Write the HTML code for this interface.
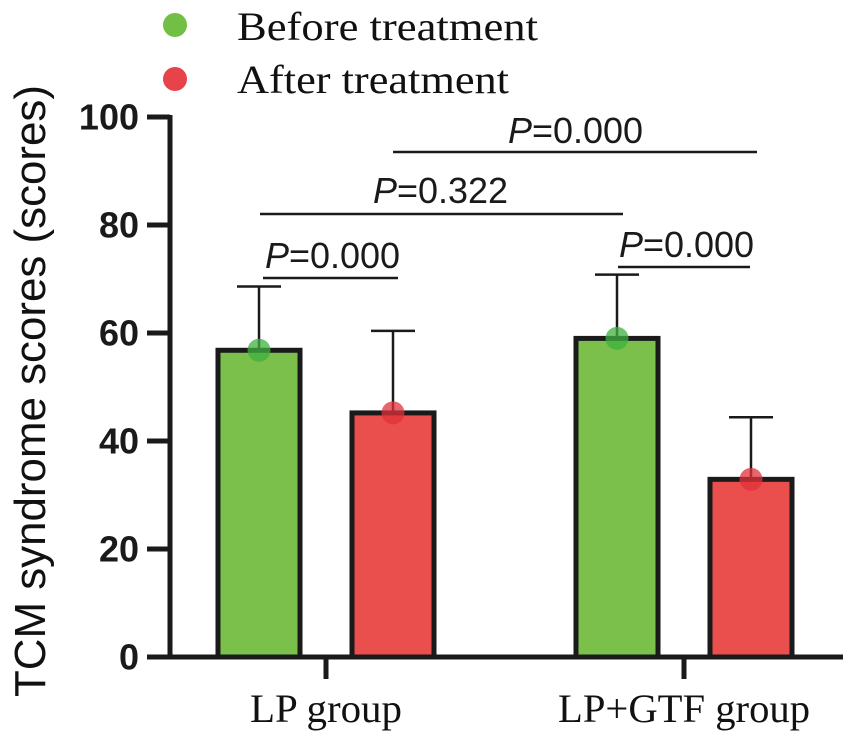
<!DOCTYPE html>
<html><head><meta charset="utf-8">
<style>html,body{margin:0;padding:0;background:#fff;}svg{display:block;}</style>
</head><body>
<svg id="chart" width="851" height="739" xmlns="http://www.w3.org/2000/svg">
<g id="legend">
  <g>
    <circle cx="175" cy="25" r="12" fill="#72bf45"/>
    <text x="237" y="40" font-family="Liberation Serif, serif" font-size="40" textLength="301" lengthAdjust="spacingAndGlyphs" fill="#111">Before treatment</text>
  </g>
  <g>
    <circle cx="175" cy="79" r="12" fill="#e8434a"/>
    <text x="237" y="93" font-family="Liberation Serif, serif" font-size="40" textLength="272" lengthAdjust="spacingAndGlyphs" fill="#111">After treatment</text>
  </g>
</g>
<text transform="translate(45,391) rotate(-90)" text-anchor="middle" font-family="Liberation Sans, sans-serif" font-size="44" textLength="612" lengthAdjust="spacingAndGlyphs" fill="#111">TCM syndrome scores (scores)</text>
<g id="yaxis"></g>
<g id="bars"></g>
<g id="xaxis"></g>
<g id="sig"></g>
</svg>
<script>
const categories = ["LP group", "LP+GTF group"];
const beforeMeans = [56.8, 59.0];
const beforeSD = [11.8, 11.8];
const afterMeans = [45.2, 32.9];
const afterSD = [15.2, 11.5];
const yTicks = [0, 20, 40, 60, 80, 100];
const pLabels = ["0.000", "0.000", "0.322", "0.000"];

const NS = "http://www.w3.org/2000/svg";
const Y0 = 657, Y100 = 117;
function y(v){ return Y0 - (v/100)*(Y0-Y100); }
const groupX = [326, 684];
function xCenter(i, s){ return groupX[i] + (s===0 ? -67 : 67); }
function mk(tag, attrs, parent){
  const e = document.createElementNS(NS, tag);
  for (const k in attrs) e.setAttribute(k, attrs[k]);
  parent.appendChild(e);
  return e;
}
const yaxis = document.getElementById('yaxis');
const axisLine = mk('line',{x1:170,y1:Y100-2,x2:170,y2:Y0+2.5,stroke:'#1a1a1a','stroke-width':5},yaxis);


yTicks.forEach(t=>{
  const tk = mk('line',{x1:147,y1:y(t),x2:170,y2:y(t),stroke:'#1a1a1a','stroke-width':5},yaxis);
  
  
  const lb = mk('text',{x:139,y:y(t)+12.5,'text-anchor':'end','font-family':'Liberation Sans, sans-serif','font-size':36,'font-weight':'bold',fill:'#1a1a1a'},yaxis);
  lb.textContent = t;
  
  
});
const bars = document.getElementById('bars');
const series = [{m:beforeMeans,sd:beforeSD,fill:'#7bc04a',dot:'#3fb03f',name:'before'},
                {m:afterMeans,sd:afterSD,fill:'#ea4f4d',dot:'#e0313a',name:'after'}];
series.forEach((s,si)=>{
  categories.forEach((c,i)=>{
    const cx = xCenter(i,si), top = y(s.m[i]), et = y(s.m[i]+s.sd[i]);
    const eb = mk('line',{x1:cx,y1:top,x2:cx,y2:et,stroke:'#1a1a1a','stroke-width':2.5},bars);
    
    
    const cap = mk('line',{x1:cx-22,y1:et,x2:cx+22,y2:et,stroke:'#1a1a1a','stroke-width':2.5},bars);
    
    
    const r = mk('rect',{x:cx-41,y:top,width:82,height:Y0-top,fill:s.fill,stroke:'#1a1a1a','stroke-width':5},bars);
    
    
    const d = mk('circle',{cx:cx,cy:top,r:11.5,fill:s.dot,'fill-opacity':0.75},bars);
    
    
  });
});
const xaxis = document.getElementById('xaxis');
const xl = mk('line',{x1:168,y1:Y0,x2:843,y2:Y0,stroke:'#1a1a1a','stroke-width':5},xaxis);


const labelW = [152, 252];
categories.forEach((c,i)=>{
  const tk = mk('line',{x1:groupX[i],y1:Y0,x2:groupX[i],y2:Y0+22,stroke:'#1a1a1a','stroke-width':5},xaxis);
  
  
  const t = mk('text',{x:groupX[i],y:722,'text-anchor':'middle','font-family':'Liberation Serif, serif','font-size':40,textLength:labelW[i],lengthAdjust:'spacingAndGlyphs',fill:'#111'},xaxis);
  t.textContent = c;
  
  
});
const sig = document.getElementById('sig');
const sigDefs = [
  {x1:263,x2:398,ly:278,tx:265,ty:268},
  {x1:618,x2:750,ly:267,tx:619,ty:257},
  {x1:260,x2:623,ly:214,tx:373,ty:203},
  {x1:393,x2:757,ly:152,tx:508,ty:143}
];
sigDefs.forEach((d,i)=>{
  const l = mk('line',{x1:d.x1,y1:d.ly,x2:d.x2,y2:d.ly,stroke:'#1a1a1a','stroke-width':2.5},sig);
  
  
  const t = mk('text',{x:d.tx,y:d.ty,'font-family':'Liberation Sans, sans-serif','font-size':36,textLength:135,lengthAdjust:'spacingAndGlyphs',fill:'#1a1a1a'},sig);
  
  
  const p = document.createElementNS(NS,'tspan');
  p.setAttribute('font-style','italic');
  p.textContent = 'P';
  t.appendChild(p);
  t.appendChild(document.createTextNode('=' + pLabels[i]));
});
</script>
</body></html>
